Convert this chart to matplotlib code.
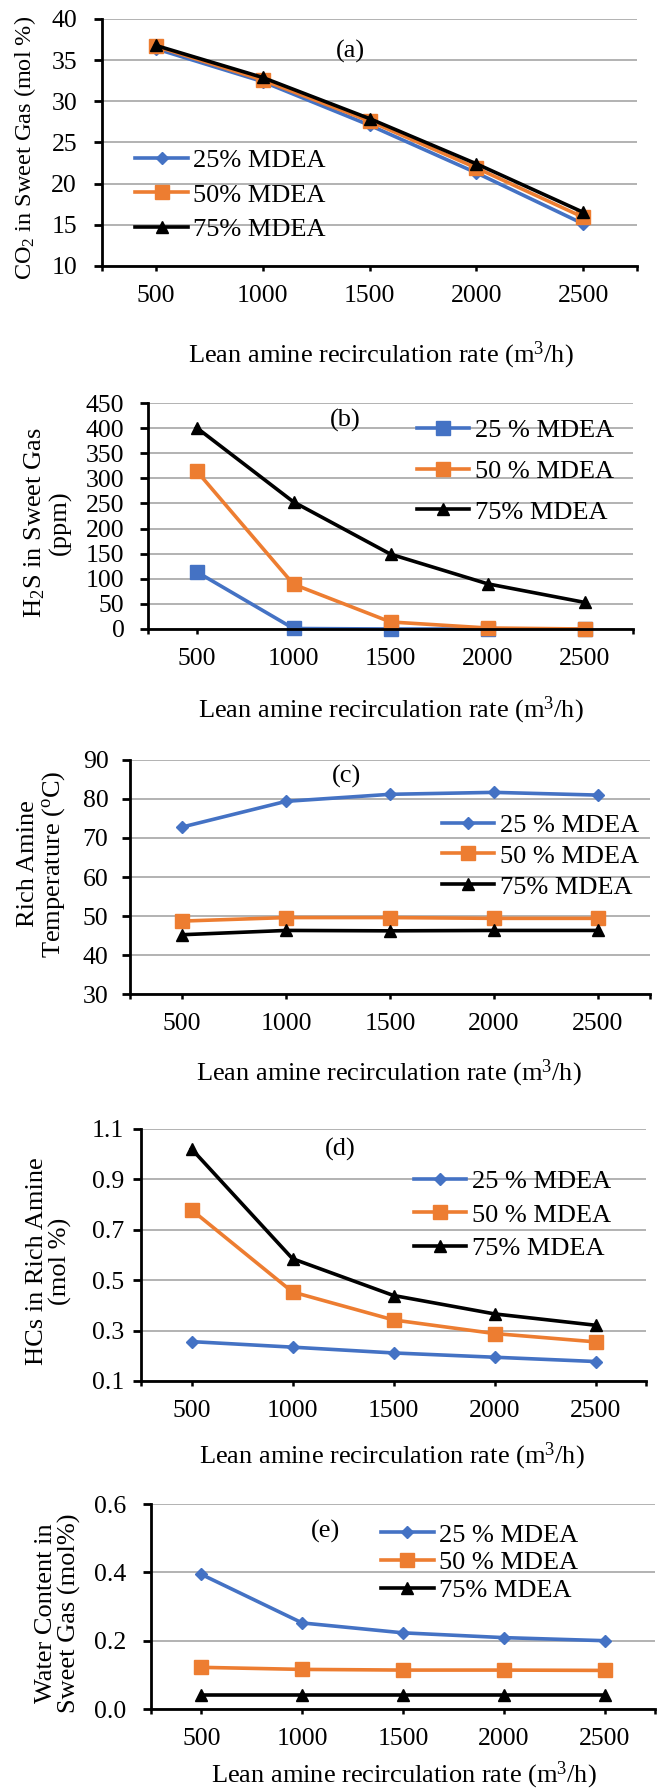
import numpy as np
import matplotlib
matplotlib.use('Agg')
import matplotlib.pyplot as plt
from matplotlib import rcParams
from matplotlib.ticker import FormatStrFormatter

rcParams['font.family'] = 'serif'
rcParams['font.serif'] = ['Liberation Serif', 'DejaVu Serif']
rcParams['mathtext.fontset'] = 'custom'
rcParams['mathtext.rm'] = 'Liberation Serif'
rcParams['mathtext.it'] = 'Liberation Serif:italic'

# data
rate = ['500', '1000', '1500', '2000', '2500']

co2_25 = [36.4, 32.4, 27.1, 21.3, 15.1]
co2_50 = [36.7, 32.6, 27.6, 21.9, 15.9]
co2_75 = [36.8, 32.9, 27.9, 22.4, 16.5]

h2s_25 = [114, 1, 0, 0, 0]
h2s_50 = [315, 89, 14, 2, 0]
h2s_75 = [401, 253, 149, 90, 53]

temp_25 = [72.8, 79.4, 81.2, 81.7, 81.0]
temp_50 = [48.7, 49.6, 49.6, 49.4, 49.4]
temp_75 = [45.2, 46.3, 46.2, 46.3, 46.3]

hc_25 = [0.256, 0.234, 0.211, 0.194, 0.177]
hc_50 = [0.779, 0.453, 0.342, 0.288, 0.255]
hc_75 = [1.021, 0.585, 0.439, 0.366, 0.321]

water_25 = [0.394, 0.252, 0.223, 0.209, 0.200]
water_50 = [0.122, 0.116, 0.114, 0.114, 0.113]
water_75 = [0.042, 0.042, 0.042, 0.042, 0.042]

labels_a = ['25% MDEA', '50% MDEA', '75% MDEA']
labels_b = ['25 % MDEA', '50 % MDEA', '75% MDEA']

BLUE = '#4472C4'
ORANGE = '#ED7D31'
BLACK = '#000000'
XLAB = r'Lean amine recirculation rate (m$^3$/h)'

fig = plt.figure(figsize=(6.59, 17.92), dpi=100)


def panel(rect, series, labels, markers, ylim, ystep, ylabel, tag,
          tag_xy, leg_xy, leg_space, xlab_xy, ylab_xy, ylab_size=19,
          ypad=11, yfmt=None):
    ax = fig.add_axes(rect)
    x = np.arange(len(rate))
    colors = [BLUE, ORANGE, BLACK]
    sizes = {'D': 6.5, 's': 9.5, '^': 9}
    for y, lab, m, c in zip(series, labels, markers, colors):
        ax.plot(x, y, color=c, lw=2.6, marker=m, ms=sizes[m],
                mec=c, mfc=c, label=lab, clip_on=False)
    ax.set_xlim(-0.5, len(rate) - 0.5)
    ax.set_ylim(*ylim)
    ax.set_yticks(np.arange(ylim[0], ylim[1] + ystep / 2, ystep))
    if yfmt:
        ax.yaxis.set_major_formatter(FormatStrFormatter(yfmt))
    ax.set_xticks(x)
    ax.set_xticklabels(rate)
    ax.set_xticks([-0.5, len(rate) - 0.5], minor=True)
    ax.grid(axis='y', color='#A6A6A6', lw=1.2)
    ax.set_axisbelow(True)
    for s in ['top', 'right']:
        ax.spines[s].set_visible(False)
    for s in ['left', 'bottom']:
        ax.spines[s].set_linewidth(2.0)
    ax.tick_params(axis='y', which='major', labelsize=18.5, length=6,
                   width=2.0, pad=ypad)
    ax.tick_params(axis='x', which='both', labelsize=18.5, length=3.5,
                   width=1.8, pad=10)
    ax.set_xlabel(XLAB, fontsize=19)
    ax.xaxis.label.set_va('center')
    ax.xaxis.set_label_coords(*xlab_xy)
    ax.set_ylabel(ylabel, fontsize=ylab_size, linespacing=1.05)
    ax.yaxis.label.set_va('center')
    ax.yaxis.set_label_coords(*ylab_xy)
    ax.text(tag_xy[0], tag_xy[1], tag, transform=ax.transAxes,
            fontsize=19, ha='center', va='center')
    ax.legend(loc='center left', bbox_to_anchor=leg_xy, frameon=False,
              fontsize=19, handlelength=2.0, handletextpad=0.2,
              labelspacing=leg_space, borderpad=0, borderaxespad=0)
    return ax


panel([0.1548, 0.8516, 0.8118, 0.1378], [co2_25, co2_50, co2_75],
      labels_a, ['D', 's', '^'], (10, 40), 5,
      r'CO$_2$ in Sweet Gas (mol %)', '(a)',
      (0.465, 0.870), (0.062, 0.288), 0.42, (0.521, -0.360),
      (-0.144, 0.478), ylab_size=17.5, ypad=12)

panel([0.2246, 0.6490, 0.7360, 0.1261], [h2s_25, h2s_50, h2s_75],
      labels_b, ['s', 's', '^'], (0, 450), 50,
      'H$_2$S in Sweet Gas\n(ppm)', '(b)',
      (0.406, 0.925), (0.554, 0.699), 0.66, (0.5, -0.358),
      (-0.208, 0.469), ypad=11)

panel([0.1973, 0.4453, 0.7891, 0.1306], [temp_25, temp_50, temp_75],
      labels_b, ['D', 's', '^'], (30, 90), 10,
      'Rich Amine\nTemperature ($^{\\mathrm{o}}$C)', '(c)',
      (0.417, 0.929), (0.599, 0.590), 0.28, (0.498, -0.338),
      (-0.170, 0.556), ypad=9.5)

panel([0.2140, 0.2294, 0.7663, 0.1406], [hc_25, hc_50, hc_75],
      labels_b, ['D', 's', '^'], (0.1, 1.1), 0.2,
      'HCs in Rich Amine\n(mol %)', '(d)',
      (0.394, 0.917), (0.540, 0.659), 0.38, (0.497, -0.298),
      (-0.182, 0.476), ypad=6, yfmt='%.1f')

panel([0.2291, 0.0463, 0.7648, 0.1144], [water_25, water_50, water_75],
      labels_b, ['D', 's', '^'], (0.0, 0.6), 0.2,
      'Water Content in\nSweet Gas (mol%)', '(e)',
      (0.347, 0.865), (0.456, 0.714), 0.16, (0.502, -0.325),
      (-0.185, 0.468), ypad=11.5, yfmt='%.1f')

fig.savefig('out.png', dpi=100)
